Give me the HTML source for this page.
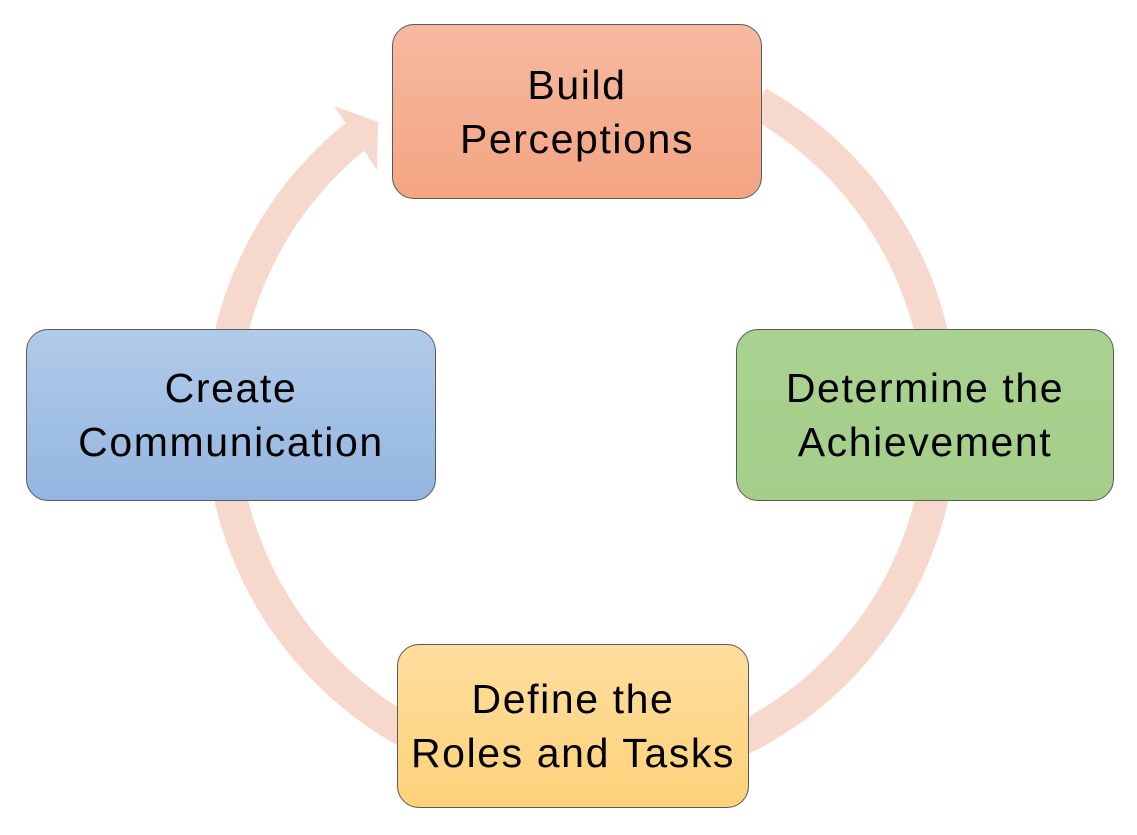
<!DOCTYPE html>
<html><head><style>
html,body{margin:0;padding:0;background:#fff;width:1137px;height:835px;overflow:hidden}
.b{position:absolute;box-sizing:border-box;border:1.5px solid #5a5a5a;border-radius:22px;display:flex;align-items:center;justify-content:center;text-align:center;font-family:"Liberation Sans",sans-serif;font-size:41px;letter-spacing:1.6px;line-height:54px;color:#000}
</style></head><body>
<svg width="1137" height="835" style="position:absolute;left:0;top:0">
<path d="M758,103 A360,360 0 1 1 356,136" fill="none" stroke="#f7d8cc" stroke-width="33"/>
<polygon points="378,122 334,106 377,170" fill="#f7d8cc"/>
</svg>
<div class="b" style="left:392px;top:24px;width:370px;height:175px;background:linear-gradient(#f6b9a0,#f4a582)">Build<br>Perceptions</div>
<div class="b" style="left:26px;top:329px;width:410px;height:172px;background:linear-gradient(#b1cbe9,#93b5e0)">Create<br>Communication</div>
<div class="b" style="left:736px;top:329px;width:378px;height:172px;background:linear-gradient(#a9d18f,#a6ce8b)">Determine the<br>Achievement</div>
<div class="b" style="left:397px;top:644px;width:352px;height:164px;background:linear-gradient(#fedd9d,#fdd27a)">Define the<br>Roles and Tasks</div>
</body></html>
